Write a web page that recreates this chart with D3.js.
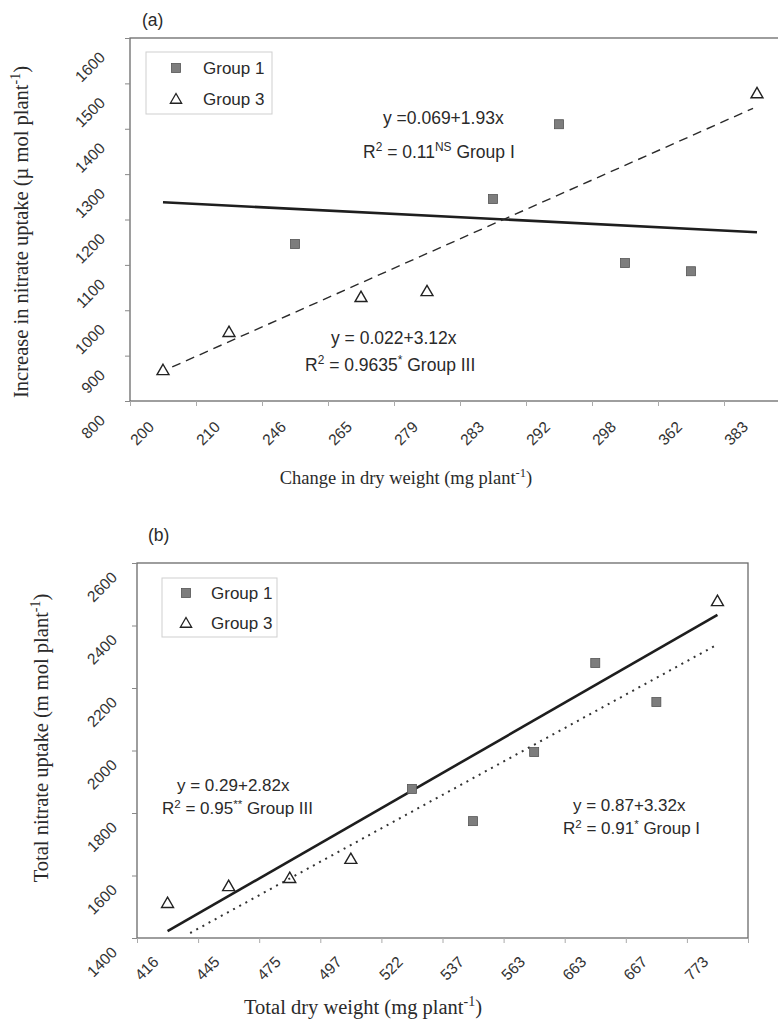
<!DOCTYPE html>
<html>
<head>
<meta charset="utf-8">
<script src="https://cdn.jsdelivr.net/npm/d3@7"></script>
<style>
  body { margin: 0; background: #fff; }
  svg { display: block; }
</style>
</head>
<body>
<svg id="chart" width="778" height="1023"></svg>
<script>
// ---- panel (a) data
const catsA = ["200", "210", "246", "265", "279", "283", "292", "298", "362", "383"];
const group1A = [null, null, 1146, null, null, 1245, 1410, 1104, 1086, null];
const group3A = [868, 952, null, 1029, 1042, null, null, null, null, 1478];
const fitSolidA = [[0, 1238], [9, 1172]];     // [category index, value]
const fitDashA = [[0.14, 875], [8.94, 1445]];
const yTicksA = [800, 900, 1000, 1100, 1200, 1300, 1400, 1500, 1600];

// ---- panel (b) data
const catsB = ["416", "445", "475", "497", "522", "537", "563", "663", "667", "773"];
const group1B = [null, null, null, null, 1877, 1774, 1995, 2280, 2155, null];
const group3B = [1512, 1566, 1592, 1653, null, null, null, null, null, 2478];
const fitSolidB = [[0, 1422], [9, 2434]];
const fitDotB = [[0.37, 1416], [8.95, 2334]];
const yTicksB = [1400, 1600, 1800, 2000, 2200, 2400, 2600];

const SANS = "'Liberation Sans', Arial, sans-serif";
const SERIF = "'Liberation Serif', 'Times New Roman', serif";
const svg = d3.select("#chart");
svg.append("rect").attr("width", 778).attr("height", 1023).attr("fill", "#fff");

// text with superscript pieces: parts = [[str, isSup], ...]
function rich(g, x, y, parts, size, family, attrs) {
  const t = g.append("text").attr("x", x).attr("y", y)
    .attr("font-family", family).attr("font-size", size).attr("fill", "#2a2a2a");
  if (attrs) Object.entries(attrs).forEach(([k, v]) => t.attr(k, v));
  let up = false;
  parts.forEach(([s, sup]) => {
    const sp = t.append("tspan").text(s);
    if (sup && !up) { sp.attr("dy", -size * 0.38).attr("font-size", size * 0.68); up = true; }
    else if (sup) { sp.attr("font-size", size * 0.68); }
    else if (up) { sp.attr("dy", size * 0.38); up = false; }
  });
  return t;
}

function triangle(s) {
  return d3.symbol().type(d3.symbolTriangle).size(s)();
}

function drawPanel(c) {
  const g = svg.append("g");
  const n = c.cats.length;
  const xBand = d3.scaleBand().domain(c.cats).range([c.left, c.right]).padding(0);
  const xIdx = d3.scaleLinear().domain([-0.5, n - 0.5]).range([c.left, c.right]);
  const y = d3.scaleLinear().domain(c.yDomain).range([c.bottom, c.top]);

  // frame
  g.append("rect")
    .attr("x", c.left).attr("y", c.top)
    .attr("width", c.right - c.left).attr("height", c.bottom - c.top)
    .attr("fill", "none").attr("stroke", "#6a6a6a").attr("stroke-width", 1.3);

  // x tick marks at category boundaries
  const xTickG = g.append("g").attr("transform", `translate(0,${c.bottom})`)
    .call(d3.axisBottom(xIdx).tickValues(d3.range(-0.5, n, 1)).tickFormat("").tickSize(5));
  xTickG.select(".domain").remove();
  xTickG.selectAll("line").attr("stroke", "#aaa");

  // x labels, rotated
  const xLab = g.append("g").attr("transform", `translate(0,${c.bottom})`)
    .call(d3.axisBottom(xBand).tickSize(0));
  xLab.select(".domain").remove();
  xLab.selectAll("text")
    .attr("font-family", SANS).attr("font-size", 15.5).attr("fill", "#333")
    .attr("text-anchor", "end")
    .attr("x", -8).attr("y", c.xLabDy).attr("dy", 0)
    .attr("transform", `rotate(-45,-8,${c.xLabDy})`);

  // y axis
  const yAx = g.append("g").attr("transform", `translate(${c.left},0)`)
    .call(d3.axisLeft(y).tickValues(c.yTicks).tickFormat(d3.format("d")).tickSize(5));
  yAx.select(".domain").remove();
  yAx.selectAll("line").attr("stroke", "#888");
  yAx.selectAll("text")
    .attr("font-family", SANS).attr("font-size", 15.5).attr("fill", "#333")
    .attr("text-anchor", "end")
    .attr("x", -c.yLabDx).attr("y", c.yLabDy).attr("dy", 0)
    .attr("transform", `rotate(-45,${-c.yLabDx},${c.yLabDy})`);

  // fit lines
  const line = d3.line().x(d => xIdx(d[0])).y(d => y(d[1]));
  c.fits.forEach(f => {
    g.append("path").datum(f.pts)
      .attr("d", line).attr("fill", "none")
      .attr("stroke", f.color).attr("stroke-width", f.width)
      .attr("stroke-dasharray", f.dash || null)
      .attr("stroke-linecap", f.cap || "butt");
  });

  // points
  const pts1 = c.group1.map((v, i) => ({ i, v })).filter(d => d.v !== null);
  const pts3 = c.group3.map((v, i) => ({ i, v })).filter(d => d.v !== null);
  g.selectAll(".sq").data(pts1).join("rect")
    .attr("x", d => xIdx(d.i) - 4.5).attr("y", d => y(d.v) - 4.5)
    .attr("width", 9).attr("height", 9)
    .attr("fill", "#7d7d7d").attr("stroke", "#555").attr("stroke-width", 0.8);
  g.selectAll(".tr").data(pts3).join("path")
    .attr("d", triangle(62))
    .attr("transform", d => `translate(${xIdx(d.i)},${y(d.v) + 1})`)
    .attr("fill", "none").attr("stroke", "#222").attr("stroke-width", 1.4);

  // legend
  const L = c.legend;
  g.append("rect").attr("x", L.x).attr("y", L.y).attr("width", L.w).attr("height", L.h)
    .attr("fill", "#fff").attr("stroke", "#cfcfcf").attr("stroke-width", 1);
  g.append("rect").attr("x", L.mx - 4.5).attr("y", L.y1 - 4.5).attr("width", 9).attr("height", 9)
    .attr("fill", "#7d7d7d").attr("stroke", "#555").attr("stroke-width", 0.8);
  g.append("path").attr("d", triangle(55)).attr("transform", `translate(${L.mx},${L.y2 + 1})`)
    .attr("fill", "none").attr("stroke", "#222").attr("stroke-width", 1.3);
  rich(g, L.tx, L.y1 + 6, [["Group 1"]], 17, SANS);
  rich(g, L.tx, L.y2 + 6, [["Group 3"]], 17, SANS);

  // equations
  c.notes.forEach(nt => rich(g, nt.x, nt.y, nt.parts, nt.size, SANS));

  // panel tag
  rich(g, c.tag.x, c.tag.y, [[c.tag.text]], 17.5, SANS);

  // axis titles
  rich(g, c.xTitle.x, c.xTitle.y, c.xTitle.parts, c.xTitle.size, SERIF, { "text-anchor": "middle" });
  rich(g, 0, 0, c.yTitle.parts, c.yTitle.size, SERIF,
    { "text-anchor": "middle", transform: `translate(${c.yTitle.x},${c.yTitle.y}) rotate(-90)` });
}

drawPanel({
  cats: catsA, group1: group1A, group3: group3A, yTicks: yTicksA,
  yDomain: [800, 1600],
  left: 130, right: 790, top: 38, bottom: 401,
  xLabDy: 27, yLabDx: 24, yLabDy: 20,
  fits: [
    { pts: fitSolidA, color: "#1e1e1e", width: 2.6 },
    { pts: fitDashA, color: "#2a2a2a", width: 1.4, dash: "9,6" }
  ],
  legend: { x: 146, y: 52, w: 126, h: 62, mx: 176, y1: 68, y2: 99, tx: 203 },
  notes: [
    { x: 383, y: 124, size: 17.5, parts: [["y =0.069+1.93x"]] },
    { x: 363, y: 158, size: 17.5, parts: [["R"], ["2", true], [" = 0.11"], ["NS", true], [" Group I"]] },
    { x: 331, y: 344, size: 17.5, parts: [["y = 0.022+3.12x"]] },
    { x: 305, y: 371, size: 17.5, parts: [["R"], ["2", true], [" = 0.9635"], ["*", true], [" Group III"]] }
  ],
  tag: { x: 142, y: 26, text: "(a)" },
  xTitle: { x: 406, y: 484, size: 18.5, parts: [["Change in dry weight (mg plant"], ["-1", true], [")"]] },
  yTitle: { x: 28, y: 232, size: 20.5, parts: [["Increase in nitrate uptake (\u00b5 mol plant"], ["-1", true], [")"]] }
});

drawPanel({
  cats: catsB, group1: group1B, group3: group3B, yTicks: yTicksB,
  yDomain: [1400, 2600],
  left: 137, right: 748, top: 563, bottom: 938,
  xLabDy: 25, yLabDx: 19, yLabDy: 15,
  fits: [
    { pts: fitSolidB, color: "#1e1e1e", width: 2.6 },
    { pts: fitDotB, color: "#333", width: 2, dash: "2,5" }
  ],
  legend: { x: 162, y: 578, w: 115, h: 59, mx: 186, y1: 593, y2: 623, tx: 211 },
  notes: [
    { x: 177, y: 791, size: 17, parts: [["y = 0.29+2.82x"]] },
    { x: 162, y: 814, size: 17, parts: [["R"], ["2", true], [" = 0.95"], ["**", true], [" Group III"]] },
    { x: 573, y: 811, size: 17, parts: [["y = 0.87+3.32x"]] },
    { x: 563, y: 834, size: 17, parts: [["R"], ["2", true], [" = 0.91"], ["*", true], [" Group I"]] }
  ],
  tag: { x: 148, y: 541, text: "(b)" },
  xTitle: { x: 363, y: 1014, size: 20.5, parts: [["Total dry weight (mg plant"], ["-1", true], [")"]] },
  yTitle: { x: 48, y: 738, size: 20.5, parts: [["Total nitrate uptake (m mol plant"], ["-1", true], [")"]] }
});
</script>
</body>
</html>
